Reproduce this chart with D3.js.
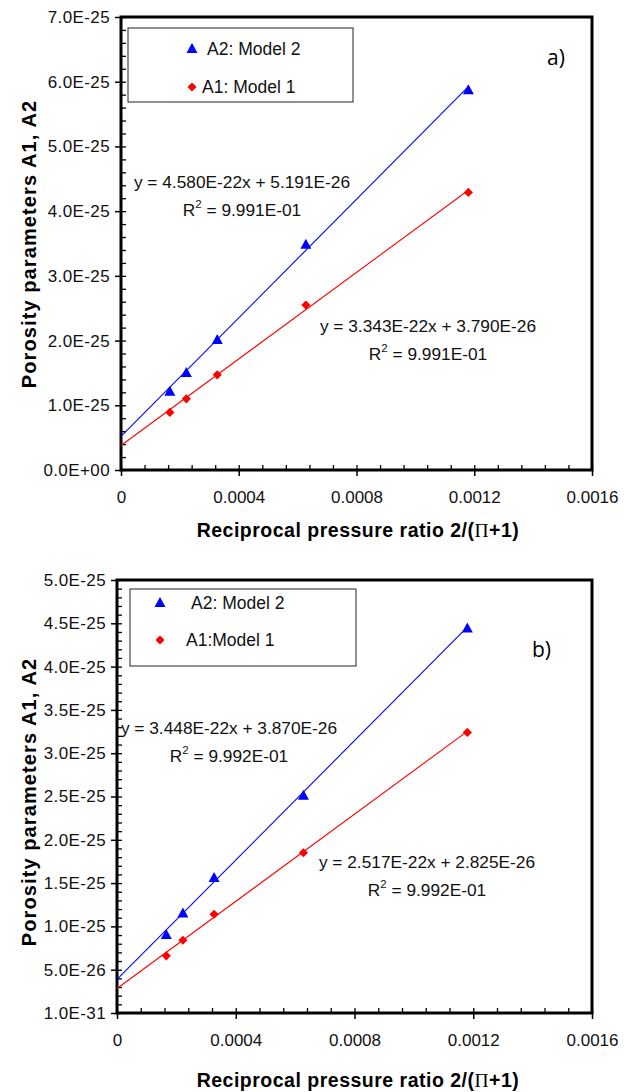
<!DOCTYPE html>
<html>
<head>
<meta charset="utf-8">
<script src="https://cdn.jsdelivr.net/npm/d3@7"></script>
<style>
  body { margin: 0; background: #fff; }
  svg { display: block; font-family: "Liberation Sans", Arial, sans-serif; }
</style>
</head>
<body>
<script>
// valores
var xValores = [0.000166, 0.000222, 0.000327, 0.000628, 0.00118];

// grafica a)
var a2Arriba = [1.21e-25, 1.50e-25, 2.01e-25, 3.48e-25, 5.87e-25];
var a1Arriba = [0.89e-25, 1.10e-25, 1.47e-25, 2.55e-25, 4.29e-25];
var pendientesArriba = [4.580e-22, 3.343e-22];
var interceptosArriba = [5.191e-26, 3.790e-26];
var ecuacionesArriba = ["y = 4.580E-22x + 5.191E-26", "y = 3.343E-22x + 3.790E-26"];
var r2Arriba = ["9.991E-01", "9.991E-01"];
var leyendaArriba = ["A2: Model 2", "A1: Model 1"];
var yTicksArriba = [0, 1e-25, 2e-25, 3e-25, 4e-25, 5e-25, 6e-25, 7e-25];
var yEtiquetasArriba = ["0.0E+00", "1.0E-25", "2.0E-25", "3.0E-25", "4.0E-25", "5.0E-25", "6.0E-25", "7.0E-25"];

// grafica b)
var a2Abajo = [0.90e-25, 1.15e-25, 1.56e-25, 2.51e-25, 4.44e-25];
var a1Abajo = [0.66e-25, 0.84e-25, 1.14e-25, 1.85e-25, 3.24e-25];
var pendientesAbajo = [3.448e-22, 2.517e-22];
var interceptosAbajo = [3.870e-26, 2.825e-26];
var ecuacionesAbajo = ["y = 3.448E-22x + 3.870E-26", "y = 2.517E-22x + 2.825E-26"];
var r2Abajo = ["9.992E-01", "9.992E-01"];
var leyendaAbajo = ["A2: Model 2", "A1:Model 1"];
var yTicksAbajo = [1e-31, 0.5e-25, 1e-25, 1.5e-25, 2e-25, 2.5e-25, 3e-25, 3.5e-25, 4e-25, 4.5e-25, 5e-25];
var yEtiquetasAbajo = ["1.0E-31", "5.0E-26", "1.0E-25", "1.5E-25", "2.0E-25", "2.5E-25", "3.0E-25", "3.5E-25", "4.0E-25", "4.5E-25", "5.0E-25"];

// eje x comun
var xTicks = [0, 0.0004, 0.0008, 0.0012, 0.0016];
var xEtiquetas = ["0", "0.0004", "0.0008", "0.0012", "0.0016"];

var svg = d3.select("body").append("svg")
    .attr("width", 630)
    .attr("height", 1092);

var azul = "#0000FF";
var rojo = "#FF0000";

function graficar(c)
{
    var x = d3.scaleLinear().domain([0, 0.0016]).range([c.izq, c.der]);
    var y = d3.scaleLinear().domain([c.yMin, c.yMax]).range([c.abajo, c.arriba]);
    var g = svg.append("g");

    // ticks menores (hacia adentro)
    g.append("g")
        .attr("transform", "translate(" + c.izq + ",0)")
        .call(d3.axisLeft(y).tickValues(d3.range(0, 1 + c.nMenoresY).map(function(i) { return c.yMin + (c.yMax - c.yMin) * i / c.nMenoresY; }))
            .tickSize(-5).tickFormat(""))
        .call(function(s) { s.select(".domain").remove(); s.selectAll("line").attr("stroke", "#000").attr("stroke-width", 1.3); });

    g.append("g")
        .attr("transform", "translate(0," + c.abajo + ")")
        .call(d3.axisBottom(x).tickValues(d3.range(0, 21).map(function(i) { return 0.0016 * i / 20; }))
            .tickSize(-5).tickFormat(""))
        .call(function(s) { s.select(".domain").remove(); s.selectAll("line").attr("stroke", "#000").attr("stroke-width", 1.3); });

    // ticks mayores
    var ejeY = g.append("g")
        .attr("transform", "translate(" + c.izq + ",0)")
        .call(d3.axisLeft(y).tickValues(c.yTicks).tickSizeInner(6).tickSizeOuter(0).tickPadding(5)
            .tickFormat(function(d, i) { return c.yEtiquetas[i]; }));
    ejeY.select(".domain").remove();
    ejeY.selectAll("line").attr("stroke", "#000").attr("stroke-width", 1.5);
    ejeY.selectAll("text").attr("font-size", 17).attr("fill", "#111")
        .attr("font-family", "Liberation Sans, Arial, sans-serif").style("letter-spacing", "0.4px");

    var ejeX = g.append("g")
        .attr("transform", "translate(0," + c.abajo + ")")
        .call(d3.axisBottom(x).tickValues(xTicks).tickSizeInner(6).tickSizeOuter(0).tickPadding(15)
            .tickFormat(function(d, i) { return xEtiquetas[i]; }));
    ejeX.select(".domain").remove();
    ejeX.selectAll("line").attr("stroke", "#000").attr("stroke-width", 1.5);
    ejeX.selectAll("text").attr("font-size", 17).attr("fill", "#111")
        .attr("font-family", "Liberation Sans, Arial, sans-serif");

    // marco
    g.append("rect")
        .attr("x", c.izq).attr("y", c.arriba)
        .attr("width", c.der - c.izq).attr("height", c.abajo - c.arriba)
        .attr("fill", "none").attr("stroke", "#000").attr("stroke-width", 3);

    // lineas de tendencia
    var series = [
        { valores: c.a2, color: azul, simbolo: "tri", m: c.pendientes[0], b: c.interceptos[0] },
        { valores: c.a1, color: rojo, simbolo: "dia", m: c.pendientes[1], b: c.interceptos[1] }
    ];
    var xFin = d3.max(xValores);
    series.forEach(function(s)
    {
        g.append("line")
            .attr("x1", x(0)).attr("y1", y(s.b))
            .attr("x2", x(xFin)).attr("y2", y(s.m * xFin + s.b))
            .attr("stroke", s.color).attr("stroke-width", 1.1);
    });

    // puntos
    series.forEach(function(s)
    {
        g.selectAll(null).data(s.valores).enter().append("path")
            .attr("d", marcador(s.simbolo))
            .attr("transform", function(d, i) { return "translate(" + x(xValores[i]) + "," + y(d) + ")" + (s.simbolo == "dia" ? " rotate(45)" : ""); })
            .attr("fill", s.color);
    });

    // leyenda
    var L = c.leyenda;
    g.append("rect")
        .attr("x", L.x).attr("y", L.y).attr("width", L.w).attr("height", L.h)
        .attr("fill", "#fff").attr("stroke", "#222").attr("stroke-width", 1);
    series.forEach(function(s, i)
    {
        var yy = L.y + L.filas[i];
        g.append("path")
            .attr("d", marcador(s.simbolo))
            .attr("transform", "translate(" + L.mx + "," + yy + ")" + (s.simbolo == "dia" ? " rotate(45)" : ""))
            .attr("fill", s.color);
        g.append("text")
            .attr("x", L.tx[i]).attr("y", yy + 6)
            .attr("font-size", 17.5).attr("fill", "#111")
            .text(c.textosLeyenda[i]);
    });

    // ecuaciones
    c.posEcuaciones.forEach(function(p, i)
    {
        g.append("text")
            .attr("x", p[0]).attr("y", p[1])
            .attr("text-anchor", "middle").attr("font-size", 17.3).attr("fill", "#111")
            .text(c.ecuaciones[i]);
        var r = g.append("text")
            .attr("x", p[0]).attr("y", p[1] + 28)
            .attr("text-anchor", "middle").attr("font-size", 17.3).attr("fill", "#111");
        r.append("tspan").text("R");
        r.append("tspan").attr("font-size", 11.5).attr("dy", -8).text("2");
        r.append("tspan").attr("dy", 8).text(" = " + c.r2[i]);
    });

    // etiqueta a) / b)
    g.append("text")
        .attr("x", c.letra[0]).attr("y", c.letra[1])
        .attr("font-family", "Open Sans, Lato, sans-serif").attr("font-size", 21)
        .text(c.letra[2]);

    // titulos
    var tx = g.append("text")
        .attr("x", 358).attr("y", c.tituloX)
        .attr("text-anchor", "middle").attr("font-weight", "bold").attr("font-size", 19.5)
        .style("letter-spacing", "0.5px");
    tx.append("tspan").text("Reciprocal pressure ratio 2/(");
    tx.append("tspan").attr("font-family", "Liberation Serif, serif").attr("font-weight", "normal").text("\u03A0");
    tx.append("tspan").text("+1)");

    g.append("text")
        .attr("transform", "translate(36," + c.tituloYc + ") rotate(-90)")
        .attr("text-anchor", "middle").attr("font-weight", "bold").attr("font-size", 20)
        .style("letter-spacing", "1.1px")
        .text("Porosity parameters A1, A2");
}

function marcador(tipo)
{
    if (tipo == "tri")
    {
        return "M0,-6L5.5,4L-5.5,4Z";
    }
    return d3.symbol().type(d3.symbolSquare).size(42)();
}

graficar({
    izq: 121, der: 592, arriba: 17, abajo: 470,
    yMin: 0, yMax: 7e-25, nMenoresY: 35,
    yTicks: yTicksArriba, yEtiquetas: yEtiquetasArriba,
    a2: a2Arriba, a1: a1Arriba,
    pendientes: pendientesArriba, interceptos: interceptosArriba,
    ecuaciones: ecuacionesArriba, r2: r2Arriba,
    posEcuaciones: [[242, 188], [428, 332]],
    leyenda: { x: 128, y: 28, w: 225, h: 74, filas: [21, 59], mx: 192, tx: [207, 202] },
    textosLeyenda: leyendaArriba,
    letra: [547, 65, "a)"],
    tituloX: 537, tituloYc: 244
});

graficar({
    izq: 117, der: 592, arriba: 580, abajo: 1013,
    yMin: 1e-31, yMax: 5e-25, nMenoresY: 50,
    yTicks: yTicksAbajo, yEtiquetas: yEtiquetasAbajo,
    a2: a2Abajo, a1: a1Abajo,
    pendientes: pendientesAbajo, interceptos: interceptosAbajo,
    ecuaciones: ecuacionesAbajo, r2: r2Abajo,
    posEcuaciones: [[229, 734], [427, 868]],
    leyenda: { x: 130, y: 589, w: 226, h: 77, filas: [14, 51], mx: 160, tx: [191, 186] },
    textosLeyenda: leyendaAbajo,
    letra: [532, 657, "b)"],
    tituloX: 1087, tituloYc: 802
});
</script>
</body>
</html>
